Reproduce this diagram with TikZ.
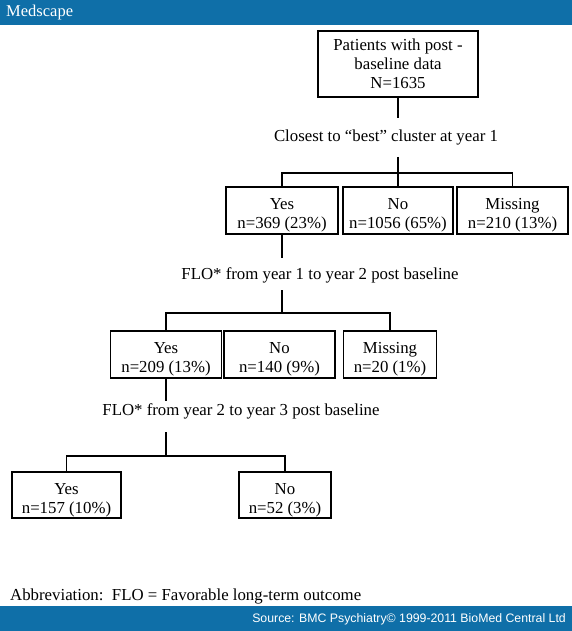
\documentclass[tikz,border=0pt]{standalone}
\usepackage{fontspec}
\setmainfont{Liberation Serif}
\newfontfamily\arialfont{Liberation Sans}
\definecolor{msblue}{HTML}{0F6FA8}
\newcommand\myup{\rule{0pt}{21pt}}
\begin{document}
\begin{tikzpicture}[x=1pt,y=-1pt,
  box/.style={draw=black,line width=1.5pt,align=center,inner sep=0pt,minimum height=47pt,font=\fontsize{16.8}{19}\selectfont},
  lbl/.style={inner sep=0pt,font=\fontsize{16.8}{19}\selectfont},
  conn/.style={line width=1.5pt}]
\useasboundingbox (0,0) rectangle (572,631);
\fill[white] (0,0) rectangle (572,631);
\fill[msblue] (0,0) rectangle (572,25);
\fill[msblue] (0,606) rectangle (572,631);
\node[anchor=west,text=white,inner sep=0pt,font=\fontsize{16.5}{18}\selectfont] (logo) at (6,12.5) {Medscape};
\node[anchor=east,text=white,inner sep=0pt,font=\arialfont\fontsize{12.3}{14}\selectfont] (src) at (566,619) {Source: BMC Psychiatry© 1999-2011 BioMed Central Ltd};

% top
\node[box,minimum width=160pt,minimum height=66pt] (top) at (398,64) {Patients with post -\\baseline data\\N=1635};
\node[lbl] (l1) at (386,137.5) {Closest to “best” cluster at year 1};
\coordinate (a1) at (398,118);
\coordinate (b1) at (398,157);
\coordinate (j1) at (398,173);

% row 1
\node[box,minimum width=112pt] (y1) at (282,210.5) {\myup Yes\\n=369 (23\%)};
\node[box,minimum width=110pt] (n1) at (398,210.5) {\myup No\\n=1056 (65\%)};
\node[box,minimum width=111pt] (m1) at (512.5,210.5) {\myup Missing\\n=210 (13\%)};

\draw[conn] (top.south) -- (a1);
\draw[conn] (b1) -- (j1);
\draw[conn] (y1.north) |- (j1) -| (m1.north);
\draw[conn] (j1) -- (n1.north);

% label 2
\node[lbl] (l2) at (320,275) {FLO* from year 1 to year 2 post baseline};
\coordinate (a2) at (282,258);
\coordinate (b2) at (282,290);
\coordinate (j2) at (282,313);

% row 2
\node[box,minimum width=111pt] (y2) at (166,354.5) {\myup Yes\\n=209 (13\%)};
\node[box,minimum width=111pt] (n2) at (279.5,354.5) {\myup No\\n=140 (9\%)};
\node[box,minimum width=93pt] (m2) at (390,354.5) {\myup Missing\\n=20 (1\%)};

\draw[conn] (y1.south) -- (a2);
\draw[conn] (b2) -- (j2);
\draw[conn] (y2.north) |- (j2) -| (m2.north);

% label 3
\node[lbl] (l3) at (241,411) {FLO* from year 2 to year 3 post baseline};
\coordinate (a3) at (166,401);
\coordinate (b3) at (166,432);
\coordinate (j3) at (166,456);

% row 3
\node[box,minimum width=109pt,minimum height=46pt] (y3) at (66.5,495) {\myup Yes\\n=157 (10\%)};
\node[box,minimum width=92pt,minimum height=46pt] (n3) at (285,495) {\myup No\\n=52 (3\%)};

\draw[conn] (y2.south) -- (a3);
\draw[conn] (b3) -- (j3);
\draw[conn] (y3.north) |- (j3) -| (n3.north);

\node[lbl,anchor=west] (abbr) at (10,596) {Abbreviation:\ \ FLO = Favorable long-term outcome};
\end{tikzpicture}
\end{document}
